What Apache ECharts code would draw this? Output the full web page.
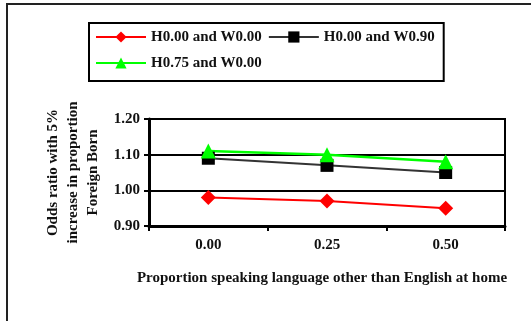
<!DOCTYPE html>
<html>
<head>
<meta charset="utf-8">
<script src="https://cdn.jsdelivr.net/npm/echarts@6/dist/echarts.min.js"></script>
<style>
  html, body { margin: 0; padding: 0; background: #fff; }
  #chart { width: 531px; height: 321px; }
</style>
</head>
<body>
<div id="chart"></div>
<script>
// Proportion speaking a language other than English at home
const categories = ['0.00', '0.25', '0.50'];

// Odds ratio with a 5% increase in proportion foreign born
const h000w000 = [0.98, 0.97, 0.95];
const h000w090 = [1.09, 1.07, 1.05];
const h075w000 = [1.11, 1.10, 1.08];

const seriesNames = ['H0.00 and W0.00', 'H0.00 and W0.90', 'H0.75 and W0.00'];

const yMin = 0.9, yMax = 1.2, yStep = 0.1;

const font = 'Liberation Serif, Times New Roman, serif';

const chart = echarts.init(document.getElementById('chart'), null, { renderer: 'canvas' });

chart.setOption({
  animation: false,
  backgroundColor: '#fff',
  graphic: [{
    type: 'rect',
    shape: { x: 7, y: 4, width: 540, height: 340 },
    style: { fill: 'none', stroke: '#222', lineWidth: 2 },
    silent: true
  }],
  legend: {
    left: 89,
    top: 23,
    width: 344,
    padding: [4, 9, 8, 6],
    itemGap: 6,
    itemWidth: 50,
    itemHeight: 14,
    borderColor: '#000',
    borderWidth: 2,
    textStyle: { fontFamily: font, fontWeight: 'bold', fontSize: 15, color: '#111', lineHeight: 20 },
    data: seriesNames
  },
  grid: {
    left: 149,
    right: 26,
    top: 119,
    bottom: 95,
    show: true,
    borderColor: '#000',
    borderWidth: 2,
    containLabel: false
  },
  xAxis: {
    type: 'category',
    data: categories,
    boundaryGap: true,
    axisLine: { lineStyle: { color: '#000', width: 3 } },
    axisTick: { show: true, length: 5, lineStyle: { color: '#000', width: 2 } },
    axisLabel: { fontFamily: font, fontWeight: 'bold', fontSize: 15, color: '#111', margin: 12 },
    name: 'Proportion speaking language other than English at home',
    nameLocation: 'middle',
    nameGap: 45,
    nameTextStyle: { fontFamily: font, fontWeight: 'bold', fontSize: 15, color: '#111', padding: [0, 10, 0, 0] }
  },
  yAxis: {
    type: 'value',
    min: yMin,
    max: yMax,
    interval: yStep,
    axisLine: { show: true, lineStyle: { color: '#000', width: 3 } },
    axisTick: { show: true, length: 5, lineStyle: { color: '#000', width: 2 } },
    splitLine: { show: true, lineStyle: { color: '#000', width: 2 } },
    axisLabel: {
      fontFamily: font, fontWeight: 'bold', fontSize: 15, color: '#111', margin: 9,
      formatter: v => v.toFixed(2)
    },
    name: 'Odds ratio with 5%\nincrease in proportion\nForeign Born',
    nameLocation: 'middle',
    nameRotate: 90,
    nameGap: 46,
    nameTextStyle: { fontFamily: font, fontWeight: 'bold', fontSize: 15, color: '#111', lineHeight: 20, align: 'center' }
  },
  series: [
    {
      name: seriesNames[0],
      type: 'line',
      data: h000w000,
      symbol: 'diamond',
      symbolSize: 15,
      color: '#ff0000',
      lineStyle: { color: '#ff0000', width: 2 },
      itemStyle: { color: '#ff0000' }
    },
    {
      name: seriesNames[1],
      type: 'line',
      data: h000w090,
      symbol: 'rect',
      symbolSize: 13,
      color: '#000',
      lineStyle: { color: '#333', width: 2 },
      itemStyle: { color: '#000' }
    },
    {
      name: seriesNames[2],
      type: 'line',
      data: h075w000,
      symbol: 'triangle',
      symbolSize: 15,
      color: '#00ff00',
      lineStyle: { color: '#00ff00', width: 2.5 },
      itemStyle: { color: '#00ff00' }
    }
  ]
});
</script>
</body>
</html>
